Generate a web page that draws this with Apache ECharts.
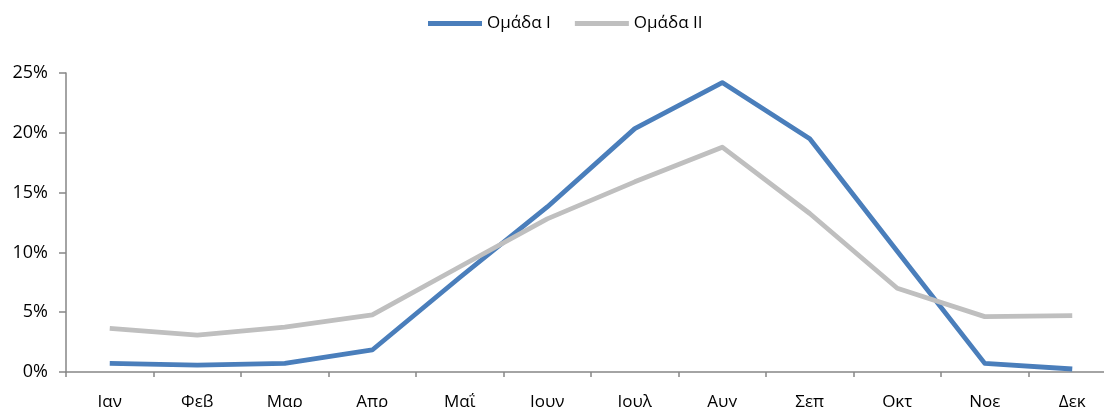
<!DOCTYPE html>
<html>
<head>
<meta charset="utf-8">
<script src="https://cdn.jsdelivr.net/npm/echarts@6/dist/echarts.min.js"></script>
<style>
html,body{margin:0;padding:0;background:#fff;}
#chart{width:1104px;height:407px;}
</style>
</head>
<body>
<div id="chart"></div>
<script>
const categories = ['Ιαν','Φεβ','Μαρ','Απρ','Μαΐ','Ιουν','Ιουλ','Αυγ','Σεπ','Οκτ','Νοε','Δεκ'];
const groupI = [0.72, 0.58, 0.72, 1.84, 7.9, 13.8, 20.35, 24.2, 19.5, 10.1, 0.72, 0.25];
const groupII = [3.65, 3.09, 3.75, 4.77, 8.8, 12.8, 15.9, 18.8, 13.25, 7.0, 4.63, 4.71];
const seriesNames = ['Ομάδα I', 'Ομάδα II'];
const yTicks = [0, 5, 10, 15, 20, 25];

const FONT = 'Open Sans';
const chart = echarts.init(document.getElementById('chart'), null, {renderer: 'canvas'});
chart.setOption({
  animation: false,
  backgroundColor: '#ffffff',
  textStyle: {fontFamily: FONT},
  legend: {
    top: 10,
    left: 423,
    icon: 'rect',
    itemWidth: 54,
    itemHeight: 5,
    itemGap: 24,
    textStyle: {fontFamily: FONT, fontSize: 17, color: '#000', fontWeight: 'normal'},
    data: seriesNames.map(n => ({name: n, textStyle: {fontFamily: FONT}}))
  },
  grid: {left: 66, top: 73, width: 1050, height: 299, containLabel: false, outerBoundsMode: 'none'},
  xAxis: {
    type: 'category',
    data: categories,
    boundaryGap: true,
    axisLine: {lineStyle: {color: '#868686', width: 1.5}},
    axisTick: {show: true, length: 5, lineStyle: {color: '#868686', width: 1.5}},
    axisLabel: {fontFamily: FONT, fontSize: 17, color: '#000', margin: 22, interval: 0}
  },
  yAxis: {
    type: 'value',
    min: yTicks[0],
    max: yTicks[yTicks.length - 1],
    interval: 5,
    axisLine: {show: true, lineStyle: {color: '#868686', width: 1.5}},
    axisTick: {show: true, length: 7, lineStyle: {color: '#868686', width: 1.5}},
    splitLine: {show: false},
    axisLabel: {fontFamily: FONT, fontSize: 18, color: '#000', margin: 18, formatter: v => v + '%'}
  },
  series: [
    {name: seriesNames[0], type: 'line', data: groupI, symbol: 'none',
     lineStyle: {color: '#4A7EBB', width: 4.8, join: 'round'}, itemStyle: {color: '#4A7EBB'}},
    {name: seriesNames[1], type: 'line', data: groupII, symbol: 'none',
     lineStyle: {color: '#BFBFBF', width: 4.8, join: 'round'}, itemStyle: {color: '#BFBFBF'}}
  ]
});
</script>
</body>
</html>
